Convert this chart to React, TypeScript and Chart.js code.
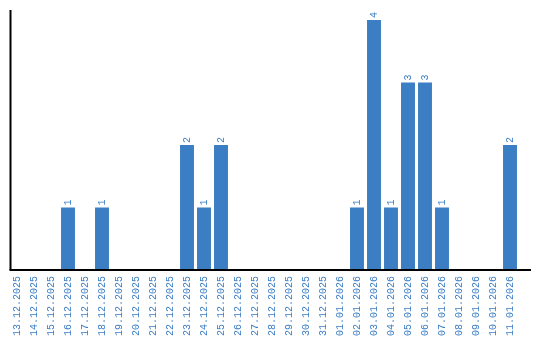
import React, { useEffect, useRef } from "react";
import { Chart, registerables } from "chart.js";

Chart.register(...registerables);

const categories = [
  "13.12.2025", "14.12.2025", "15.12.2025", "16.12.2025", "17.12.2025",
  "18.12.2025", "19.12.2025", "20.12.2025", "21.12.2025", "22.12.2025",
  "23.12.2025", "24.12.2025", "25.12.2025", "26.12.2025", "27.12.2025",
  "28.12.2025", "29.12.2025", "30.12.2025", "31.12.2025", "01.01.2026",
  "02.01.2026", "03.01.2026", "04.01.2026", "05.01.2026", "06.01.2026",
  "07.01.2026", "08.01.2026", "09.01.2026", "10.01.2026", "11.01.2026",
];

const counts = [
  0, 0, 0, 1, 0,
  1, 0, 0, 0, 0,
  2, 1, 2, 0, 0,
  0, 0, 0, 0, 0,
  1, 4, 1, 3, 3,
  1, 0, 0, 0, 2,
];

const BAR_COLOR = "#3b7ec3";
const TEXT_COLOR = "#3a7dc4";
const FONT = "'Liberation Mono', 'DejaVu Sans Mono', monospace";

const axisAndLabels = {
  id: "axisAndLabels",
  afterDatasetsDraw(chart: any) {
    const { ctx, chartArea } = chart;
    const meta = chart.getDatasetMeta(0);
    ctx.save();
    // value labels
    ctx.fillStyle = TEXT_COLOR;
    ctx.font = `10px ${FONT}`;
    ctx.textAlign = "left";
    ctx.textBaseline = "middle";
    meta.data.forEach((bar: any, i: number) => {
      const v = counts[i];
      if (!v) return;
      ctx.save();
      ctx.translate(bar.x, bar.y - 2);
      ctx.rotate(-Math.PI / 2);
      ctx.fillText(String(v), 0, 0);
      ctx.restore();
    });
    // axis lines
    ctx.strokeStyle = "#000";
    ctx.lineWidth = 2;
    const x0 = chartArea.left + 2;
    ctx.beginPath();
    ctx.moveTo(x0, chartArea.top);
    ctx.lineTo(x0, chartArea.bottom);
    ctx.stroke();
    ctx.beginPath();
    ctx.moveTo(x0 - 1, chartArea.bottom);
    ctx.lineTo(chartArea.right + 12.5, chartArea.bottom);
    ctx.stroke();
    ctx.restore();
  },
};

export default function App() {
  const ref = useRef<HTMLCanvasElement>(null);
  useEffect(() => {
    const chart = new Chart(ref.current!, {
      type: "bar",
      data: {
        labels: categories,
        datasets: [
          {
            data: counts,
            backgroundColor: BAR_COLOR,
            borderWidth: 0,
            categoryPercentage: 1,
            barPercentage: 0.82,
          },
        ],
      },
      options: {
        animation: false,
        responsive: false,
        maintainAspectRatio: false,
        layout: { padding: { left: 8.5, right: 21.5, top: 10, bottom: 0 } },
        plugins: { legend: { display: false }, tooltip: { enabled: false } },
        scales: {
          x: {
            grid: { display: false, drawTicks: false },
            border: { display: false },
            ticks: {
              color: TEXT_COLOR,
              font: { family: FONT, size: 10 },
              minRotation: 90,
              maxRotation: 90,
              autoSkip: false,
              padding: 6,
            },
            afterFit: (scale: any) => {
              scale.height = 70;
            },
          },
          y: {
            display: false,
            min: 0,
            max: 4.16,
          },
        },
      },
      plugins: [axisAndLabels],
    });
    return () => chart.destroy();
  }, []);
  return (
    <div style={{ position: "absolute", left: 0, top: 0, width: 540, height: 340 }}>
      <canvas ref={ref} width={540} height={340} style={{ width: 540, height: 340 }} />
    </div>
  );
}
